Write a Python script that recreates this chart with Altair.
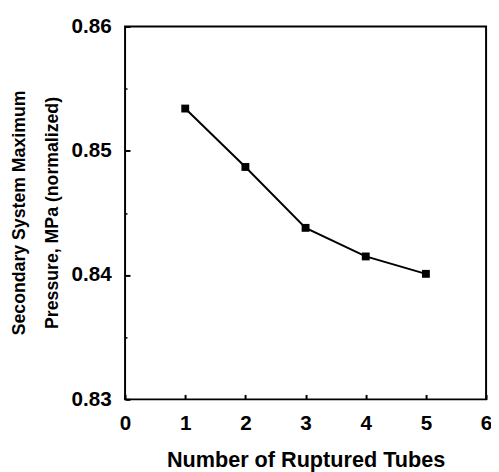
import altair as alt
import pandas as pd

tubes = [1, 2, 3, 4, 5]
pressure = [0.8534, 0.8487, 0.8438, 0.8415, 0.8401]

x_ticks = [0, 0.5, 1, 1.5, 2, 2.5, 3, 3.5, 4, 4.5, 5, 5.5, 6]
y_ticks = [0.83, 0.835, 0.84, 0.845, 0.85, 0.855, 0.86]

df = pd.DataFrame({"tubes": tubes, "pressure": pressure})

FONT = "Liberation Sans"
X_MAJOR = "datum.value % 1 === 0"
Y_MAJOR = "abs(round(datum.value * 100) - datum.value * 100) < 0.01"

x_enc = alt.X(
    "tubes:Q",
    scale=alt.Scale(domain=[0, 6], nice=False, zero=False),
    axis=alt.Axis(
        values=x_ticks,
        labelExpr=f"{X_MAJOR} ? format(datum.value, 'd') : ''",
        title="Number of Ruptured Tubes",
        domain=False,
        grid=False,
        tickColor="black",
        tickSize={"condition": {"test": X_MAJOR, "value": -5}, "value": -2},
        tickWidth={"condition": {"test": X_MAJOR, "value": 2}, "value": 1.5},
        labelFont=FONT,
        labelFontSize=21,
        labelFontWeight="bold",
        labelColor="black",
        labelPadding=19,
        labelFlush=False,
        labelOverlap=False,
        titleFont=FONT,
        titleFontSize=22,
        titleFontWeight="bold",
        titleColor="black",
        titlePadding=16,
    ),
)

y_enc = alt.Y(
    "pressure:Q",
    scale=alt.Scale(domain=[0.83, 0.86], nice=False, zero=False),
    axis=alt.Axis(
        values=y_ticks,
        labelExpr=f"{Y_MAJOR} ? format(datum.value, '.2f') : ''",
        title=["Secondary System Maximum", "Pressure, MPa (normalized)"],
        domain=False,
        grid=False,
        tickColor="black",
        tickSize={"condition": {"test": Y_MAJOR, "value": -5}, "value": -2},
        tickWidth={"condition": {"test": Y_MAJOR, "value": 2}, "value": 1.5},
        labelFont=FONT,
        labelFontSize=21,
        labelFontWeight="bold",
        labelColor="black",
        labelPadding=19,
        labelFlush=False,
        labelOverlap=False,
        titleFont=FONT,
        titleFontSize=18,
        titleFontWeight="bold",
        titleColor="black",
        titleLineHeight=33,
        titleAngle=270,
        titleAlign="center",
        titleBaseline="middle",
        titleX=-107,
        titleY=189,
    ),
)

line = alt.Chart(df).mark_line(color="black", strokeWidth=2).encode(x=x_enc, y=y_enc)
pts = alt.Chart(df).mark_square(color="black", size=64, opacity=1).encode(x="tubes:Q", y="pressure:Q")

chart = (
    alt.layer(line, pts)
    .properties(
        width=367,
        height=379,
        background="white",
        autosize=alt.AutoSizeParams(type="none"),
        padding={"left": 119, "top": 15, "right": 5, "bottom": 70},
    )
    .configure_view(stroke="black", strokeWidth=2)
)

chart.save("out.html", embed_options={"renderer": "svg", "actions": False})
